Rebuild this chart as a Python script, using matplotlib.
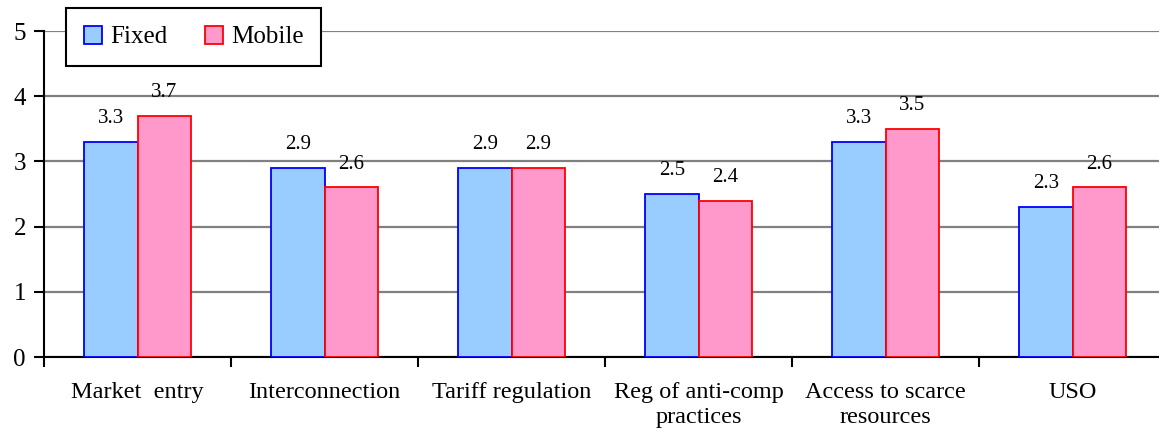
import numpy as np
import matplotlib.pyplot as plt

categories = ["Market  entry", "Interconnection", "Tariff regulation",
              "Reg of anti-comp\npractices", "Access to scarce\nresources", "USO"]
fixed = [3.3, 2.9, 2.9, 2.5, 3.3, 2.3]
mobile = [3.7, 2.6, 2.9, 2.4, 3.5, 2.6]

plt.rcParams['font.family'] = ['Liberation Serif', 'DejaVu Serif']

fig = plt.figure(figsize=(11.59, 4.29), dpi=100)
ax = fig.add_axes([44 / 1159, 1 - 357 / 429, 1122 / 1159, 326 / 429])

x = np.arange(len(categories))
w = 0.286
b1 = ax.bar(x - w / 2, fixed, w, color="#99ccff", edgecolor="#0000ff", linewidth=1.3,
            label="Fixed", zorder=3)
b2 = ax.bar(x + w / 2, mobile, w, color="#ff99cc", edgecolor="#ff0000", linewidth=1.3,
            label="Mobile", zorder=3)

for bars, vals in ((b1, fixed), (b2, mobile)):
    for r, v in zip(bars, vals):
        ax.annotate(f"{v:.1f}", (r.get_x() + r.get_width() / 2, v),
                    xytext=(0, 10), textcoords="offset points",
                    ha="center", va="bottom", fontsize=15)

ax.set_xlim(-0.5, len(categories) - 0.5)
ax.set_ylim(0, 5)
ax.set_yticks(range(6))
ax.yaxis.grid(True, color="#808080", linewidth=1.6, zorder=0)
ax.set_axisbelow(True)

ax.set_xticks(np.arange(len(categories) + 1) - 0.5)
ax.set_xticklabels([])
ax.set_xticks(x, minor=True)
ax.set_xticklabels(categories, minor=True, fontsize=17.5, linespacing=1.25)
ax.tick_params(axis="x", which="minor", length=0, pad=18)
ax.tick_params(axis="x", which="major", length=7, width=1.5, direction="out")
ax.tick_params(axis="y", length=7, width=1.5, direction="out", labelsize=18, pad=6)

for s in ("top", "right"):
    ax.spines[s].set_visible(False)
for s in ("left", "bottom"):
    ax.spines[s].set_linewidth(1.5)

leg = ax.legend(loc="upper left", bbox_to_anchor=(22 / 1122, 1 + 23 / 326), ncol=2,
                fontsize=18, frameon=True, fancybox=False, edgecolor="black",
                handlelength=0.75, handleheight=0.75, columnspacing=1.5,
                borderpad=0.7, handletextpad=0.3, borderaxespad=0)
leg.get_frame().set_linewidth(1.5)
leg.get_frame().set_alpha(1)

fig.savefig("out.png", dpi=100)
